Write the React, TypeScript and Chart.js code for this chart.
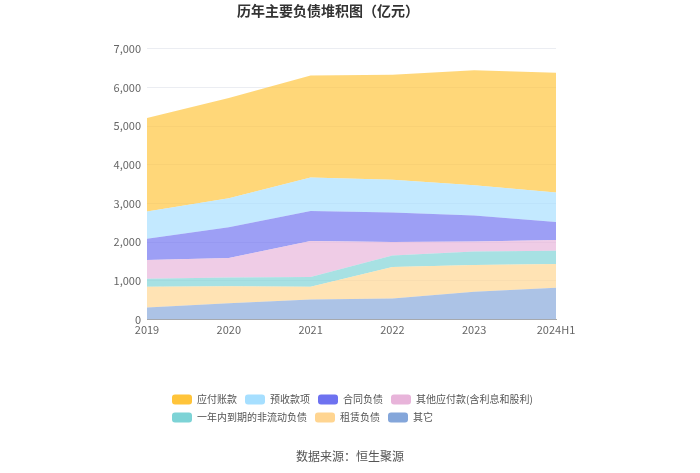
import React, { useEffect, useRef } from "react";
import { Chart, registerables } from "chart.js";

Chart.register(...registerables);

const categories = ["2019", "2020", "2021", "2022", "2023", "2024H1"];
const yTicks = [0, 1000, 2000, 3000, 4000, 5000, 6000, 7000];

// stack order: bottom first
const qita = [311, 424, 519, 545, 717, 821];
const zulin = [536, 440, 328, 812, 692, 614];
const yinian = [207, 225, 251, 302, 354, 345];
const qitaYingfu = [484, 501, 933, 346, 259, 277];
const hetong = [554, 795, 778, 761, 666, 467];
const yushou = [700, 752, 864, 847, 786, 760];
const yingfu = [2420, 2593, 2636, 2714, 2974, 3095];

const seriesNames = ["其它", "租赁负债", "一年内到期的非流动负债", "其他应付款(含利息和股利)", "合同负债", "预收款项", "应付账款"];
const seriesData = [qita, zulin, yinian, qitaYingfu, hetong, yushou, yingfu];
const seriesColors = ["#84A6DA", "#FFD591", "#7DD3D6", "#E8B4DA", "#6E72F0", "#A6DFFF", "#FFC43A"];

const FONT = '"Noto Sans CJK SC", "Noto Sans", sans-serif';

function withAlpha(hex: string, a: number) {
  const r = parseInt(hex.slice(1, 3), 16);
  const g = parseInt(hex.slice(3, 5), 16);
  const b = parseInt(hex.slice(5, 7), 16);
  return `rgba(${r},${g},${b},${a})`;
}

export default function App() {
  const ref = useRef<HTMLCanvasElement | null>(null);
  useEffect(() => {
    document.body.style.margin = "0";
    const canvas = ref.current!;
    const shiftBoxes = {
      id: "shiftBoxes",
      afterLayout(chart: any) {
        const lg = chart.legend;
        if (lg) {
          lg.left += 17;
          lg.right += 17;
        }
        const st = chart.boxes.find((b: any) => b.options && b.options.text === "数据来源：恒生聚源");
        if (st) {
          st.left += 22;
          st.right += 22;
        }
      },
    };
    const chart = new Chart(canvas, {
      type: "line",
      data: {
        labels: categories,
        datasets: seriesNames.map((name, i) => ({
          label: name,
          data: seriesData[i],
          backgroundColor: withAlpha(seriesColors[i], 0.68),
          borderColor: "rgba(0,0,0,0)",
          borderWidth: 0,
          pointRadius: 0,
          fill: i === 0 ? "origin" : "-1",
          tension: 0,
        })) as any,
      },
      options: {
        animation: false,
        responsive: false,
        layout: { padding: { left: 100, right: 144, top: 0, bottom: 0 } },
        plugins: {
          title: {
            display: true,
            text: "历年主要负债堆积图（亿元）",
            color: "#333",
            font: { family: FONT, size: 14, weight: "bold" },
            padding: { top: 2, bottom: 30 },
          },
          subtitle: {
            display: true,
            position: "bottom",
            text: "数据来源：恒生聚源",
            color: "#555",
            font: { family: FONT, size: 12 },
            padding: { top: 17, bottom: 9 },
          },
          legend: {
            position: "bottom",
            align: "start",
            fullSize: false,
            reverse: true,
            labels: {
              boxWidth: 20,
              boxHeight: 10,
              padding: 8,
              color: "#555",
              font: { family: FONT, size: 10 },
              generateLabels(chart: any) {
                return chart.data.datasets.map((ds: any, i: number) => ({
                  text: ds.label,
                  fillStyle: seriesColors[i],
                  strokeStyle: seriesColors[i],
                  lineWidth: 0,
                  borderRadius: 3,
                  hidden: false,
                  datasetIndex: i,
                  fontColor: "#555",
                }));
              },
            },
          },
          tooltip: { enabled: false },
        },
        scales: {
          x: {
            grid: { display: false, drawOnChartArea: false, drawTicks: true, tickLength: 4, tickColor: "#999" },
            border: { display: true, color: "#aaa" },
            ticks: { color: "#666", font: { family: FONT, size: 11 }, padding: 0, maxRotation: 0, autoSkip: false },
            afterFit(scale: any) {
              scale.height = 67;
            },
          },
          y: {
            stacked: true,
            min: 0,
            max: 7000,
            afterBuildTicks(scale: any) {
              scale.ticks = yTicks.map((v) => ({ value: v }));
            },
            grid: { color: "#ebedf2", drawTicks: false },
            border: { display: false },
            ticks: {
              color: "#666",
              font: { family: FONT, size: 11 },
              padding: 6,
              callback: (v: any) => Number(v).toLocaleString("en-US"),
            },
            afterFit(scale: any) {
              scale.width = 47;
            },
          },
        },
      },
      plugins: [shiftBoxes],
    } as any);
    return () => chart.destroy();
  }, []);
  return <canvas ref={ref} width={700} height={473} style={{ display: "block" }} />;
}
